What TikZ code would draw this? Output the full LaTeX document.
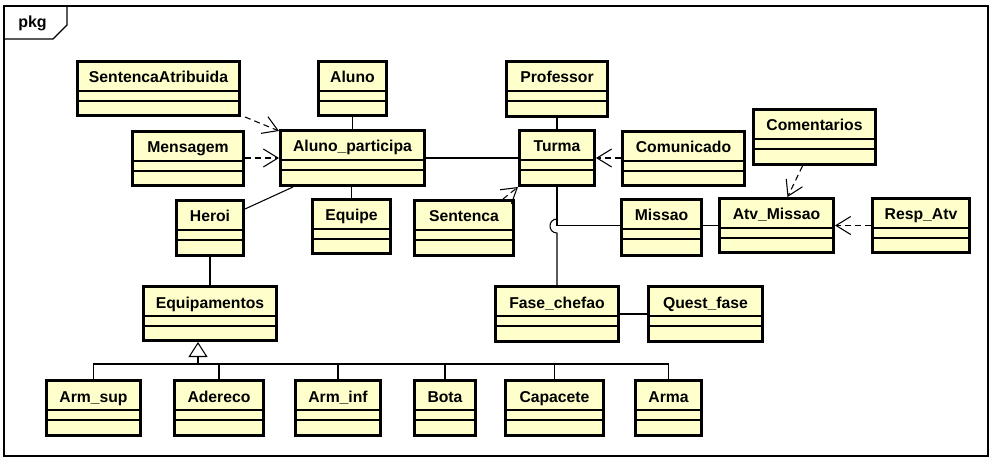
\documentclass[tikz,border=0pt]{standalone}
\usepackage{fontspec}
\setmainfont{Liberation Sans}
\usetikzlibrary{arrows.meta}

\definecolor{classfill}{HTML}{FFFFCC}

\tikzset{
  classbox/.style={draw=black, fill=classfill, line width=2.25pt, inner sep=0pt},
  classline/.style={draw=black, line width=0.8pt},
  classtitle/.style={anchor=base, inner sep=0pt, font=\fontsize{11.8}{14}\selectfont\bfseries},
  assoc/.style={draw=black, line width=0.8pt},
  dep/.style={assoc, dashed, dash pattern=on 4.5pt off 3pt, -{Straight Barb[length=11pt, width=13.5pt, line width=0.8pt]}},
  gen/.style={assoc, -{Triangle[open, length=11.25pt, width=14.25pt, line width=0.8pt]}},
}

% name, left, top, width, height, title
\newcommand{\umlclass}[6]{
  \node[classbox, anchor=north west, minimum width={(#4-3)*0.75pt}, minimum height={(#5-3)*0.75pt}] (#1) at (#2,#3) {};
  \draw[classline] (#2,#3+31) -- (#2+#4,#3+31);
  \draw[classline] (#2,#3+41) -- (#2+#4,#3+41);
  \node[classtitle] at ({#2+#4/2},{#3+23}) {#6};
}

\begin{document}
\begin{tikzpicture}[x=0.75pt, y=-0.75pt]
    \useasboundingbox (0,0) rectangle (998,466);

    % frame
    \draw[line width=0.8pt] (4,6) rectangle (988,456);
    \draw[line width=0.8pt] (4,39) -- (53,39) -- (67,25) -- (67,6);
    \node[anchor=base west, inner sep=0pt, font=\fontsize{12}{14}\selectfont\bfseries] (pkg) at (18,28) {pkg};

    \umlclass{sentatrib}{76}{60}{165}{57}{SentencaAtribuida}
    \umlclass{mensagem}{131}{130}{114}{57}{Mensagem}
    \umlclass{aluno}{317}{60}{71}{57}{Aluno}
    \umlclass{alunopart}{279}{129}{147}{58}{Aluno\_participa}
    \umlclass{equipe}{311}{198}{81}{57}{Equipe}
    \umlclass{heroi}{175}{199}{70}{58}{Heroi}
    \umlclass{sentenca}{413}{199}{102}{58}{Sentenca}
    \umlclass{professor}{505}{60}{104}{58}{Professor}
    \umlclass{turma}{518}{129}{78}{58}{Turma}
    \umlclass{comunicado}{621}{130}{125}{57}{Comunicado}
    \umlclass{comentarios}{752}{108}{125}{58}{Comentarios}
    \umlclass{missao}{620}{198}{83}{59}{Missao}
    \umlclass{atvmissao}{718}{197}{117}{57}{Atv\_Missao}
    \umlclass{respatv}{871}{197}{100}{57}{Resp\_Atv}
    \umlclass{equip}{142}{285}{136}{57}{Equipamentos}
    \umlclass{fasechefao}{494}{285}{126}{58}{Fase\_chefao}
    \umlclass{questfase}{647}{285}{117}{58}{Quest\_fase}
    \umlclass{armsup}{45}{379}{97}{58}{Arm\_sup}
    \umlclass{adereco}{173}{379}{92}{58}{Adereco}
    \umlclass{arminf}{294}{379}{88}{58}{Arm\_inf}
    \umlclass{bota}{413}{379}{64}{58}{Bota}
    \umlclass{capacete}{504}{379}{101}{58}{Capacete}
    \umlclass{arma}{634}{379}{69}{58}{Arma}

    % dependencies
    \draw[dep] ([shift={(4,0)}]sentatrib.south east) -- ([shift={(0,2)}]alunopart.north west);
    \draw[dep] (mensagem.east |- alunopart.west) -- (alunopart.west);
    \draw[dep] ([shift={(-12,0)}]sentenca.north east) -- (turma.south west);
    \draw[dep] (comunicado.west |- turma.east) -- (turma.east);
    \draw[dep] ([shift={(-12,0)}]comentarios.south) -- ([shift={(11,0)}]atvmissao.north);
    \draw[dep] (respatv.west |- atvmissao.east) -- (atvmissao.east);

    % associations
    \draw[assoc] (aluno.south -| alunopart.north) -- (alunopart.north);
    \draw[assoc] (alunopart.south -| equipe.north) -- (equipe.north);
    \draw[assoc] (alunopart.east) -- (alunopart.east -| turma.west);
    \draw[assoc] ([shift={(0,10)}]heroi.north east) -- ([shift={(14,0)}]alunopart.south west);
    \draw[assoc] (heroi.south -| equip.north) -- (equip.north);
    \draw[assoc] (professor.south -| turma.north) -- (turma.north);
    \draw[assoc] (turma.south) |- (missao.west |- atvmissao.west);
    \draw[assoc] (turma.south) -- ++(0,32) .. controls +(-9.3,0) and +(-9.3,0) .. ++(0,14) -- (turma.south |- fasechefao.north);
    \draw[assoc] (missao.east |- atvmissao.west) -- (atvmissao.west);
    \draw[assoc] (fasechefao.east) -- (fasechefao.east -| questfase.west);

    % generalization
    \coordinate (bus) at (198,364);
    \foreach \part in {armsup, adereco, arminf, bota, capacete, arma}
        \draw[assoc] (\part.north) |- (bus);
    \draw[gen] (bus) -- ([shift={(-12,0)}]equip.south);
\end{tikzpicture}
\end{document}
